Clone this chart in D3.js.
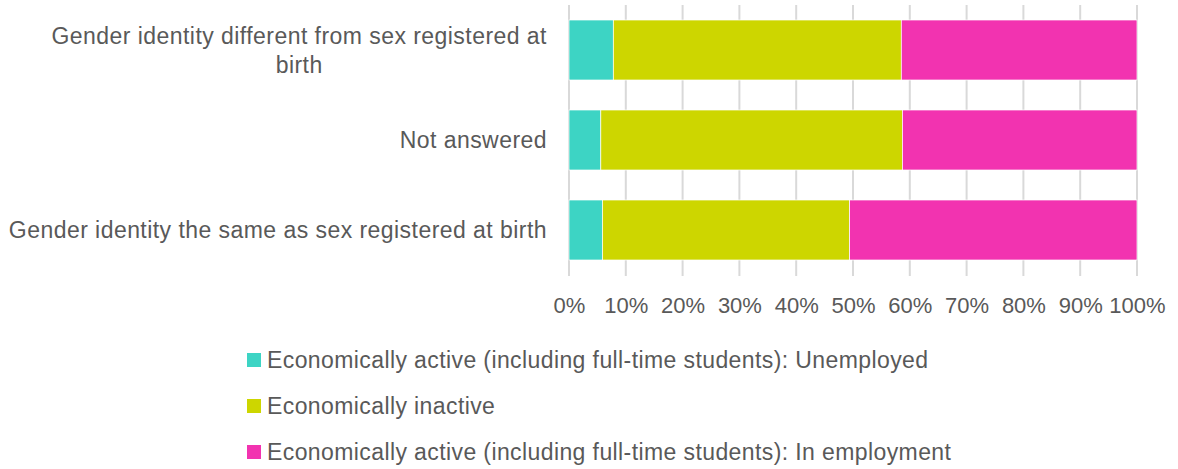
<!DOCTYPE html>
<html>
<head>
<meta charset="utf-8">
<script src="https://d3js.org/d3.v7.min.js"></script>
<style>
  body { margin: 0; background: #fff; }
  text { font-family: "Liberation Sans", Arial, sans-serif; fill: #595959; }
</style>
</head>
<body>
<svg id="chart" width="1178" height="469"></svg>
<script>
// categories, top to bottom
var categories = [
  "Gender identity different from sex registered at birth",
  "Not answered",
  "Gender identity the same as sex registered at birth"
];
var seriesNames = [
  "Economically active (including full-time students): Unemployed",
  "Economically inactive",
  "Economically active (including full-time students): In employment"
];
var unemployed = [7.8, 5.6, 5.9];
var inactive   = [50.7, 53.1, 43.5];
var employed   = [41.5, 41.3, 50.6];
var ticks = [0, 10, 20, 30, 40, 50, 60, 70, 80, 90, 100];
var colors = ["#3dd4c4", "#cdd600", "#f233b0"];

var svg = d3.select("#chart");
var fs = 23;

var x = d3.scaleLinear().domain([0, 100]).range([569, 1137]);
var y = d3.scaleBand().domain(categories).range([5, 275]).paddingInner(1/3).paddingOuter(1/6);

// gridlines
svg.append("g").selectAll("line").data(ticks).enter().append("line")
  .attr("x1", function(d) { return x(d); })
  .attr("x2", function(d) { return x(d); })
  .attr("y1", 5).attr("y2", 276)
  .attr("stroke", "#d9d9d9").attr("stroke-width", 2);

// stacked bars
var rows = categories.map(function(c, i) {
  return { cat: c, v0: unemployed[i], v1: inactive[i], v2: employed[i] };
});
var stack = d3.stack().keys(["v0", "v1", "v2"])(rows);

svg.append("g").selectAll("g").data(stack).enter().append("g")
  .attr("fill", function(d, i) { return colors[i]; })
  .selectAll("rect").data(function(d) { return d; }).enter().append("rect")
  .attr("x", function(d) { return x(d[0]); })
  .attr("width", function(d) { return x(d[1]) - x(d[0]); })
  .attr("y", function(d) { return y(d.data.cat); })
  .attr("height", y.bandwidth())
  .attr("stroke", "#fff").attr("stroke-width", 0.7);

// x axis tick labels
var xAxis = svg.append("g").attr("transform", "translate(0,276)")
  .call(d3.axisBottom(x).tickValues(ticks).tickFormat(function(d) { return d + "%"; }).tickSize(0).tickPadding(21));
xAxis.select(".domain").remove();
xAxis.selectAll("text").style("font-size", "22px").attr("fill", "#595959")
  .style("font-family", "Liberation Sans, Arial, sans-serif");

// category labels (wrapped like the original)
var wrapped = {};
wrapped[categories[0]] = ["Gender identity different from sex registered at", "birth"];
var catG = svg.append("g");
categories.forEach(function(c) {
  var lines = wrapped[c] || [c];
  var lh = 29;
  var cy = y(c) + y.bandwidth() / 2;
  var t = catG.append("text")
    .attr("text-anchor", "middle")
    .style("font-size", fs + "px")
    .style("letter-spacing", "0.45px");
  lines.forEach(function(l, i) {
    t.append("tspan")
      .attr("x", 0)
      .attr("y", cy + (i - (lines.length - 1) / 2) * lh)
      .attr("dy", "0.35em")
      .text(l);
  });
  // right align block, center lines within block
  var w = t.node().getBBox().width;
  t.selectAll("tspan").attr("x", 547 - w / 2);
});

// legend
var leg = svg.append("g").selectAll("g").data(seriesNames).enter().append("g")
  .attr("transform", function(d, i) { return "translate(247," + (353 + i * 46) + ")"; });
leg.append("rect").attr("width", 14).attr("height", 14)
  .attr("fill", function(d, i) { return colors[i]; });
leg.append("text").attr("x", 20).attr("y", 7).attr("dy", "0.35em")
  .style("font-size", fs + "px").style("letter-spacing", "0.4px")
  .text(function(d) { return d; });
</script>
</body>
</html>
